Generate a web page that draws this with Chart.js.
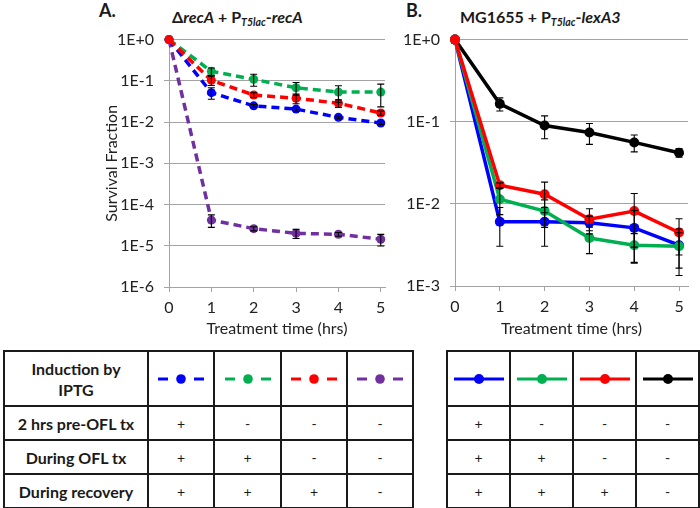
<!DOCTYPE html>
<html><head><meta charset="utf-8">
<script src="https://cdn.jsdelivr.net/npm/chart.js@4"></script>
<style>
body{margin:0;width:700px;height:508px;background:#fff;position:relative;overflow:hidden;font-family:Lato,'Open Sans',sans-serif;color:#1a1a1a;}
.panel{position:absolute;font-weight:bold;font-size:18px;line-height:18px;}
.ttl{position:absolute;font-weight:bold;font-size:16px;line-height:16px;white-space:nowrap;}
.ttl i{font-style:italic;}
.ttl sub{font-style:italic;font-size:10.5px;vertical-align:-3px;line-height:0;}
.cv{position:absolute;}
table{position:absolute;border-collapse:collapse;table-layout:fixed;}
td{border:2px solid #1a1a1a;text-align:center;vertical-align:middle;padding:0;font-size:14px;}
td.h{font-weight:bold;font-size:16px;line-height:21px;}
td svg{display:block;margin:0 auto;}
</style></head>
<body>
<div class="panel" style="left:99px;top:1px;">A.</div>
<div class="ttl" style="left:172px;top:9px;">&Delta;<i>recA</i> + P<sub>T5lac</sub>-<i>recA</i></div>
<div class="panel" style="left:406px;top:1px;">B.</div>
<div class="ttl" style="left:460px;top:9px;">MG1655 + P<sub>T5lac</sub>-<i>lexA3</i></div>

<div class="cv" style="left:100px;top:20px;width:300px;height:320px;"><canvas id="cA" width="300" height="320"></canvas></div>
<div class="cv" style="left:395px;top:20px;width:305px;height:320px;"><canvas id="cB" width="305" height="320"></canvas></div>

<table id="tA" style="left:3px;top:350px;width:409px;">
<colgroup><col style="width:144px"><col style="width:66px"><col style="width:67px"><col style="width:66px"><col style="width:66px"></colgroup>
<tr style="height:55px"><td class="h">Induction by<br>IPTG</td><td id="lA0"></td><td id="lA1"></td><td id="lA2"></td><td id="lA3"></td></tr>
<tr style="height:34px"><td class="h" id="rA0"></td><td></td><td></td><td></td><td></td></tr>
<tr style="height:34px"><td class="h" id="rA1"></td><td></td><td></td><td></td><td></td></tr>
<tr style="height:34px"><td class="h" id="rA2"></td><td></td><td></td><td></td><td></td></tr>
</table>
<table id="tB" style="left:446px;top:350px;width:252px;">
<colgroup><col style="width:63px"><col style="width:63px"><col style="width:63px"><col style="width:63px"></colgroup>
<tr style="height:55px"><td id="lB0"></td><td id="lB1"></td><td id="lB2"></td><td id="lB3"></td></tr>
<tr style="height:34px"><td></td><td></td><td></td><td></td></tr>
<tr style="height:34px"><td></td><td></td><td></td><td></td></tr>
<tr style="height:34px"><td></td><td></td><td></td><td></td></tr>
</table>

<script>
// ---------- data ----------
const hours = [0, 1, 2, 3, 4, 5];
const xTickVals = [0, 1, 2, 3, 4, 5];
const yTickValsA = [1, 1e-1, 1e-2, 1e-3, 1e-4, 1e-5, 1e-6];
const yTickLabelsA = ['1E+0', '1E-1', '1E-2', '1E-3', '1E-4', '1E-5', '1E-6'];
const yTickValsB = [1, 1e-1, 1e-2, 1e-3];
const yTickLabelsB = ['1E+0', '1E-1', '1E-2', '1E-3'];

// Panel A (dashed): ΔrecA + PT5lac-recA
const aBlue      = [1, 0.0517, 0.0247, 0.0206, 0.0130, 0.0095];
const aBlueErr   = [0, 0.016, 0.002, 0.002, 0.001, 0.0008];
const aGreen     = [1, 0.170, 0.109, 0.068, 0.0533, 0.0533];
const aGreenErr  = [0, 0.035, 0.035, 0.023, 0.023, 0.030];
const aRed       = [1, 0.103, 0.0453, 0.0378, 0.0286, 0.0166];
const aRedErr    = [0, 0.026, 0.006, 0.010, 0.006, 0.002];
const aPurple    = [1, 4.2e-5, 2.6e-5, 2.0e-5, 1.9e-5, 1.44e-5];
const aPurpleErr = [0, 1.4e-5, 0.3e-5, 0.5e-5, 0.2e-5, 0.45e-5];

// Panel B (solid): MG1655 + PT5lac-lexA3
const bBlue      = [1, 0.00605, 0.00605, 0.0059, 0.0051, 0.00314];
const bBlueErr   = [0, 0.003, 0.003, 0.0012, 0.0032, 0.0018];
const bGreen     = [1, 0.0114, 0.00817, 0.00384, 0.00314, 0.00305];
const bGreenErr  = [0, 0.004, 0.003, 0.00136, 0.0012, 0.0014];
const bRed       = [1, 0.0169, 0.0131, 0.00651, 0.00817, 0.00448];
const bRedErr    = [0, 0.0011, 0.0053, 0.0022, 0.0052, 0.0021];
const bBlack     = [1, 0.165, 0.090, 0.074, 0.056, 0.042];
const bBlackErr  = [0, 0.030, 0.028, 0.021, 0.013, 0.005];

// table content
const rowLabels = ['2 hrs pre-OFL tx', 'During OFL tx', 'During recovery'];
const signsA = [['+', '-', '-', '-'], ['+', '+', '-', '-'], ['+', '+', '+', '-']];
const signsB = [['+', '-', '-', '-'], ['+', '+', '-', '-'], ['+', '+', '+', '-']];

const BLUE = '#0000ff', GREEN = '#00b050', RED = '#ff0000', PURPLE = '#7030a0', BLACK = '#000000';
const colorsA = [BLUE, GREEN, RED, PURPLE];
const colorsB = [BLUE, GREEN, RED, BLACK];

// ---------- tables ----------
const tA = document.getElementById('tA'), tB = document.getElementById('tB');
rowLabels.forEach((l, r) => {
  document.getElementById('rA' + r).textContent = l;
  const cellsA = tA.rows[r + 1].cells;
  signsA[r].forEach((s, c) => cellsA[c + 1].textContent = s);
  const cellsB = tB.rows[r + 1].cells;
  signsB[r].forEach((s, c) => cellsB[c].textContent = s);
});
const NS = 'http://www.w3.org/2000/svg';
function glyph(cell, color, dashed) {
  const svg = document.createElementNS(NS, 'svg');
  const w = dashed ? 46 : 50;
  svg.setAttribute('width', w); svg.setAttribute('height', 12);
  const add = (tag, attrs) => { const e = document.createElementNS(NS, tag); for (const k in attrs) e.setAttribute(k, attrs[k]); svg.appendChild(e); };
  if (dashed) {
    add('line', {x1: 0, y1: 6, x2: 10, y2: 6, stroke: color, 'stroke-width': 3});
    add('line', {x1: 36, y1: 6, x2: 46, y2: 6, stroke: color, 'stroke-width': 3});
    add('circle', {cx: 23, cy: 6, r: 4.8, fill: color});
  } else {
    add('line', {x1: 0, y1: 6, x2: 50, y2: 6, stroke: color, 'stroke-width': 3});
    add('circle', {cx: 25, cy: 6, r: 5, fill: color});
  }
  cell.appendChild(svg);
}
colorsA.forEach((c, i) => glyph(document.getElementById('lA' + i), c, true));
colorsB.forEach((c, i) => glyph(document.getElementById('lB' + i), c, false));

// ---------- charts ----------
const errPlugin = {
  id: 'errbars',
  afterDatasetsDraw(chart) {
    const ctx = chart.ctx, ys = chart.scales.y, xs = chart.scales.x;
    ctx.save();
    ctx.strokeStyle = '#000'; ctx.lineWidth = 1.1;
    chart.data.datasets.forEach(ds => {
      if (!ds.err) return;
      ds.data.forEach((p, i) => {
        const e = ds.err[i]; if (!e) return;
        const x = xs.getPixelForValue(p.x);
        const lo = Math.max(p.y - e, ys.min);
        const yt = ys.getPixelForValue(p.y + e), yb = ys.getPixelForValue(lo);
        ctx.beginPath();
        ctx.moveTo(x, yt); ctx.lineTo(x, yb);
        ctx.moveTo(x - 3.5, yt); ctx.lineTo(x + 3.5, yt);
        if (p.y - e > ys.min) { ctx.moveTo(x - 3.5, yb); ctx.lineTo(x + 3.5, yb); }
        ctx.stroke();
      });
    });
    ctx.restore();
  }
};

const FONT = 'Lato';
const GRID = '#a3a3a3';
function ds(vals, err, color, dashed, order) {
  return {
    data: vals.map((v, i) => ({x: hours[i], y: v})),
    err: err,
    borderColor: color, backgroundColor: color,
    pointBackgroundColor: color, pointBorderColor: color,
    borderWidth: 3.5,
    borderDash: dashed ? [8, 5] : [],
    pointRadius: dashed ? 4.5 : 5, pointBorderWidth: 0,
    tension: 0, clip: false, order: order
  };
}

function makeChart(id, datasets, xMax, yMin, yVals, yLabels, yTitle, yWidth, xHeight, pad) {
  return new Chart(document.getElementById(id), {
    type: 'line',
    data: {datasets: datasets},
    options: {
      responsive: false, animation: false,
      layout: {padding: pad},
      plugins: {legend: {display: false}, tooltip: {enabled: false}},
      scales: {
        x: {
          type: 'linear', min: 0, max: xMax,
          afterBuildTicks: s => { s.ticks = xTickVals.map(v => ({value: v})); },
          afterFit: s => { s.height = xHeight; },
          ticks: {font: {family: FONT, size: 16}, color: '#222', padding: 6, maxRotation: 0,
                  callback: v => String(v)},
          grid: {drawOnChartArea: false, drawTicks: true, tickLength: 5, color: GRID},
          border: {display: true, color: GRID, width: 1},
          title: {display: true, text: 'Treatment time (hrs)', font: {family: FONT, size: 16}, color: '#222',
                  padding: {top: 0, bottom: 2}}
        },
        y: {
          type: 'logarithmic', min: yMin, max: 1,
          afterBuildTicks: s => { s.ticks = yVals.map(v => ({value: v})); },
          afterFit: s => { s.width = yWidth; },
          ticks: {font: {family: FONT, size: 16}, color: '#222', padding: 10,
                  callback: (v) => yLabels[yVals.findIndex(t => Math.abs(Math.log10(t) - Math.log10(v)) < 1e-6)]},
          grid: {color: GRID, lineWidth: 1, tickLength: 5},
          border: {display: true, color: GRID, width: 1},
          title: {display: !!yTitle, text: yTitle || '', font: {family: FONT, size: 16}, color: '#222',
                  padding: {top: 2, bottom: 0}}
        }
      }
    },
    plugins: [errPlugin]
  });
}

makeChart('cA', [
  ds(aPurple, aPurpleErr, PURPLE, true, 3),
  ds(aBlue, aBlueErr, BLUE, true, 2),
  ds(aGreen, aGreenErr, GREEN, true, 1),
  ds(aRed, aRedErr, RED, true, 0)
], 5.1, 1e-6, yTickValsA, yTickLabelsA, 'Survival Fraction', 69, 53, {top: 15, right: 15, left: 0, bottom: 0});

makeChart('cB', [
  ds(bBlack, bBlackErr, BLACK, false, 3),
  ds(bBlue, bBlueErr, BLUE, false, 2),
  ds(bGreen, bGreenErr, GREEN, false, 1),
  ds(bRed, bRedErr, RED, false, 0)
], 5.2, 1e-3, yTickValsB, yTickLabelsB, '', 60, 54, {top: 13, right: 12, left: 0, bottom: 0});
</script>
</body></html>
